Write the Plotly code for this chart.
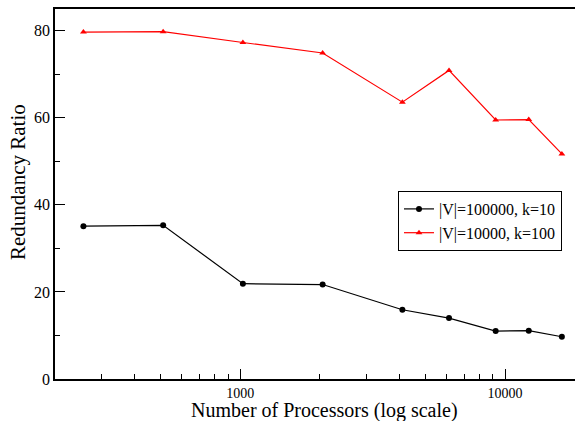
import plotly.graph_objects as go

processors = [256, 512, 1024, 2048, 4096, 6144, 9216, 12288, 16384]
ratio_v100000_k10 = [35.1, 35.3, 21.9, 21.7, 15.9, 14.0, 11.0, 11.1, 9.7]
ratio_v10000_k100 = [79.7, 79.8, 77.3, 74.9, 63.6, 70.9, 59.5, 59.6, 51.7]
series_names = ["|V|=100000, k=10", "|V|=10000, k=100"]

x_major = [1000, 10000]
x_minor = [300, 400, 500, 600, 700, 800, 900,
           2000, 3000, 4000, 5000, 6000, 7000, 8000, 9000]
y_major = [0, 20, 40, 60, 80]
y_minor = [10, 30, 50, 70]

font_family = "Liberation Serif"

fig = go.Figure()
fig.add_trace(go.Scatter(
    x=processors, y=ratio_v100000_k10, name=series_names[0],
    mode="lines+markers",
    line=dict(color="black", width=1.2),
    marker=dict(symbol="circle", size=6, color="black"),
))
fig.add_trace(go.Scatter(
    x=processors, y=ratio_v10000_k100, name=series_names[1],
    mode="lines+markers",
    line=dict(color="#ff0000", width=1.2),
    marker=dict(symbol="triangle-up", size=6, color="#ff0000"),
))

fig.update_layout(
    width=575, height=421,
    margin=dict(l=55, r=0, t=9, b=42),
    plot_bgcolor="white", paper_bgcolor="white",
    font=dict(family=font_family, size=15, color="black"),
    showlegend=True,
    legend=dict(
        x=(398 - 55) / 520, y=(379 - 191) / 370, xanchor="left", yanchor="top",
        bgcolor="white", bordercolor="black", borderwidth=1,
        font=dict(family=font_family, size=16, color="black"),
        tracegroupgap=0, itemwidth=30,
    ),
    xaxis=dict(
        type="log", range=[2.301, 4.264],
        showgrid=False, zeroline=False,
        showline=True, linecolor="black", linewidth=1.5, mirror=True,
        ticks="inside", ticklen=10, tickcolor="black", tickwidth=1,
        tickvals=x_major, ticktext=[str(v) for v in x_major],
        tickfont=dict(family=font_family, size=14),
        minor=dict(tickvals=x_minor, ticks="inside", ticklen=5,
                   tickcolor="black", tickwidth=1, showgrid=False),
    ),
    yaxis=dict(
        range=[0, 85],
        showgrid=False, zeroline=False,
        showline=True, linecolor="black", linewidth=1.5,
        ticks="inside", ticklen=10, tickcolor="black", tickwidth=1,
        tickvals=y_major, ticktext=[str(v) for v in y_major],
        tickfont=dict(family=font_family, size=16),
        minor=dict(tickvals=y_minor, ticks="inside", ticklen=5,
                   tickcolor="black", tickwidth=1, showgrid=False),
    ),
    annotations=[
        dict(text="Number of Processors (log scale)", xref="paper", yref="paper",
             x=(324 - 55) / 520, y=-(410 - 379) / 370, xanchor="center", yanchor="middle",
             showarrow=False, font=dict(family=font_family, size=20)),
        dict(text="Redundancy Ratio", xref="paper", yref="paper",
             x=-(55 - 18) / 520, y=(379 - 182) / 370, xanchor="center", yanchor="middle",
             textangle=-90, showarrow=False, font=dict(family=font_family, size=21)),
    ],
)

fig.write_html("out.html")
